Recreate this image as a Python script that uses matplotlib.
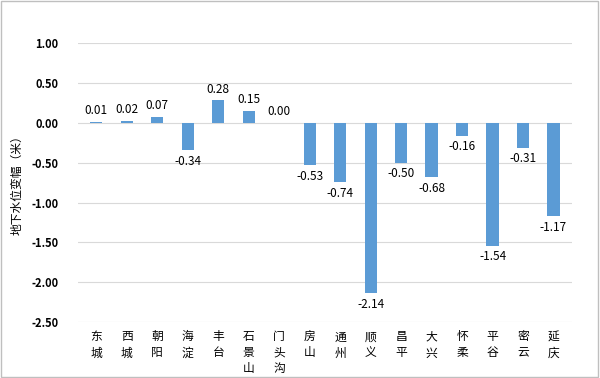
import matplotlib
matplotlib.use("Agg")
import matplotlib.pyplot as plt

plt.rcParams["font.family"] = ["Noto Sans CJK SC", "DejaVu Sans"]

districts = ["东城", "西城", "朝阳", "海淀", "丰台", "石景山", "门头沟", "房山",
             "通州", "顺义", "昌平", "大兴", "怀柔", "平谷", "密云", "延庆"]
changes = [0.01, 0.02, 0.07, -0.34, 0.28, 0.15, 0.00, -0.53,
           -0.74, -2.14, -0.50, -0.68, -0.16, -1.54, -0.31, -1.17]
yticks = [1.0, 0.5, 0.0, -0.5, -1.0, -1.5, -2.0, -2.5]

fig = plt.figure(figsize=(6, 3.78), dpi=100)
ax = fig.add_axes([0.13, 0.148, 0.823, 0.738])

x = range(len(districts))
ax.bar(x, changes, width=0.4, color="#5B9BD5", zorder=3)

for xi, v in zip(x, changes):
    if v >= 0:
        ax.text(xi, v + 0.06, f"{v:.2f}", ha="center", va="bottom", fontsize=8.5, color="#000000")
    else:
        ax.text(xi, v - 0.06, f"{v:.2f}", ha="center", va="top", fontsize=8.5, color="#000000")

ax.set_ylim(-2.5, 1.0)
ax.set_xlim(-0.6, len(districts) - 0.4)
ax.set_yticks(yticks)
ax.set_yticklabels([f"{t:.2f}" for t in yticks], fontsize=8, fontweight="bold")
ax.set_xticks(list(x))
ax.set_xticklabels(["\n".join(d) for d in districts], fontsize=8.5, linespacing=1.3, va="top")
ax.tick_params(axis="x", length=0, pad=6)
ax.tick_params(axis="y", length=0, pad=14)
ax.grid(axis="y", color="#d9d9d9", linewidth=0.8, zorder=0)
for s in ax.spines.values():
    s.set_visible(False)

ax.set_ylabel("地下水位变幅（米）", fontsize=8.5)
ax.yaxis.set_label_coords(-0.11, 0.5)

fig.patches.append(plt.Rectangle((0.002, 0.003), 0.995, 0.994, transform=fig.transFigure,
                                 fill=False, edgecolor="#bfbfbf", linewidth=1))

plt.savefig("out.png", dpi=100)
plt.close()
